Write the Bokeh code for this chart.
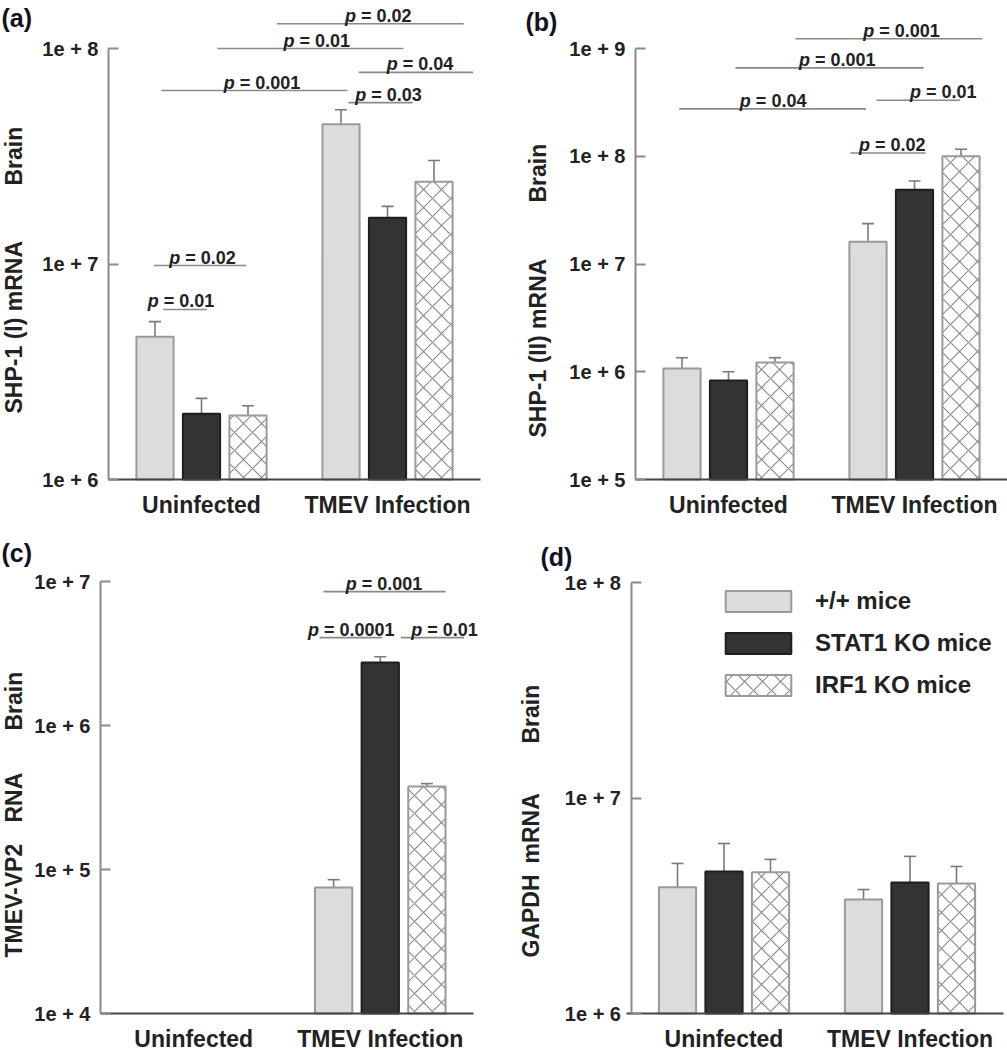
import math
from bokeh.plotting import figure
from bokeh.models import (Range1d, FixedTicker, CustomJSTickFormatter, ColumnDataSource,
                          Whisker, TeeHead, Label, Legend, LegendItem)
from bokeh.layouts import gridplot
from bokeh.embed import file_html
from bokeh.resources import INLINE
from bokeh.core.properties import value

NaN = float("nan")

# ---------------- data ----------------
groups = ["Uninfected", "TMEV Infection"]
strains = ["+/+ mice", "STAT1 KO mice", "IRF1 KO mice"]

# (a) SHP-1 (I) mRNA
a_wt = [4.6e6, 4.45e7];   a_wt_err = [0.8e6, 7.5e6]
a_stat1 = [2.02e6, 1.64e7]; a_stat1_err = [0.36e6, 2.1e6]
a_irf1 = [1.98e6, 2.41e7];  a_irf1_err = [0.22e6, 6.1e6]
# (b) SHP-1 (II) mRNA
b_wt = [1.07e6, 1.61e7];  b_wt_err = [0.28e6, 7.6e6]
b_stat1 = [8.3e5, 4.9e7]; b_stat1_err = [1.7e5, 1.0e7]
b_irf1 = [1.22e6, 1.0e8]; b_irf1_err = [0.13e6, 1.6e7]
# (c) TMEV-VP2 RNA (no signal in uninfected mice)
c_wt = [NaN, 7.5e4];     c_wt_err = [NaN, 1.0e4]
c_stat1 = [NaN, 2.74e6]; c_stat1_err = [NaN, 2.6e5]
c_irf1 = [NaN, 3.77e5];  c_irf1_err = [NaN, 1.8e4]
# (d) GAPDH mRNA
d_wt = [3.85e6, 3.38e6];  d_wt_err = [1.12e6, 0.38e6]
d_stat1 = [4.56e6, 4.05e6]; d_stat1_err = [1.59e6, 1.31e6]
d_irf1 = [4.52e6, 4.01e6];  d_irf1_err = [0.67e6, 0.8e6]

# significance brackets: label, x from, x to, log10(y), label centre x
a_brackets = [("p = 0.02", 1.81, 3.82, 8.115, 2.90),
              ("p = 0.01", 1.17, 3.17, 8.0, 2.24),
              ("p = 0.04", 2.69, 3.92, 7.889, 3.35),
              ("p = 0.001", 0.57, 2.57, 7.805, 1.65),
              ("p = 0.03", 2.58, 3.27, 7.749, 3.01),
              ("p = 0.02", 0.49, 1.48, 6.993, 1.01),
              ("p = 0.01", 0.59, 1.06, 6.789, 0.78)]
b_brackets = [("p = 0.001", 1.72, 3.73, 9.09, 2.86),
              ("p = 0.001", 1.075, 3.10, 8.82, 2.17),
              ("p = 0.04", 0.47, 2.48, 8.44, 1.48),
              ("p = 0.01", 2.59, 3.49, 8.52, 3.31),
              ("p = 0.02", 2.31, 3.12, 8.03, 2.76)]
c_brackets = [("p = 0.001", 2.39, 3.70, 6.93, 3.04),
              ("p = 0.0001", 2.35, 3.02, 6.61, 2.69),
              ("p = 0.01", 3.22, 3.90, 6.61, 3.69)]
d_brackets = []

# ---------------- style ----------------
FONT = "Liberation Sans"
TXT = "#222222"
H = 525
group_x = [1.0, 3.0]
offsets = [-0.5, 0.0, 0.5]
BAR_W = 0.4
styles = [dict(fill_color="#dcdcdc", line_color="#9a9a9a"),
          dict(fill_color="#333333", line_color="#1e1e1e"),
          dict(fill_color="#ffffff", line_color="#9a9a9a", hatch_pattern="diagonal_cross",
               hatch_color="#8c8c8c", hatch_scale=18, hatch_weight=1.2)]

CW = {"p": 0.611, " ": 0.278, "=": 0.584, ".": 0.278}


def tw(s, size):
    return sum(CW.get(ch, 0.556) for ch in s) * size


def make_panel(letter, width, x0px, unit, x_bounds, base_log, base_py, decade, top_log,
               series, brackets, ylabels, letter_pos, legend_loc=None):
    # frame covers the whole figure; axes are drawn at fixed locations inside it
    xr = (-x0px / unit, (width - x0px) / unit)
    lo_log = base_log - (H - base_py) / decade
    hi_log = base_log + base_py / decade
    ylo = 10.0 ** base_log
    p = figure(width=width, height=H, output_backend="svg", toolbar_location=None,
               x_range=Range1d(*xr), y_range=Range1d(10 ** lo_log, 10 ** hi_log),
               y_axis_type="log", min_border=0, min_border_left=0, min_border_right=0,
               min_border_top=0, min_border_bottom=0)
    p.outline_line_color = None
    p.grid.visible = False

    renderers = []
    for (vals, errs), off, st in zip(series, offsets, styles):
        xs, tops, ups = [], [], []
        for gx, v, e in zip(group_x, vals, errs):
            if v == v:
                xs.append(gx + off); tops.append(v); ups.append(v + e)
        src = ColumnDataSource(dict(x=xs, top=tops, upper=ups))
        r = p.vbar(x="x", top="top", bottom=ylo, width=BAR_W, source=src, line_width=2, **st)
        renderers.append(r)
        w = Whisker(source=src, base="x", lower="top", upper="upper", dimension="height",
                    line_color="#7a7a7a", line_width=1.6, lower_head=None,
                    upper_head=TeeHead(size=12, line_color="#7a7a7a", line_width=1.6))
        p.add_layout(w)

    if brackets:
        fs = 18
        seg = dict(x0=[], x1=[], y=[])
        pt = dict(x=[], y=[], xo=[], text=[])
        rt = dict(x=[], y=[], xo=[], text=[])
        for lab, x0, x1, ylog, xc in brackets:
            yv = 10 ** ylog
            seg["x0"].append(x0); seg["x1"].append(x1); seg["y"].append(yv)
            rest = lab[2:]
            total = tw(lab, fs)
            pr = -total / 2 + tw("p", fs)
            pt["x"].append(xc); pt["y"].append(yv); pt["xo"].append(pr); pt["text"].append("p")
            rt["x"].append(xc); rt["y"].append(yv); rt["xo"].append(pr + tw(" ", fs)); rt["text"].append(rest)
        p.segment(x0="x0", x1="x1", y0="y", y1="y", source=ColumnDataSource(seg),
                  line_color="#8a8a8a", line_width=1.6)
        p.text(x="x", y="y", text="text", x_offset="xo", y_offset=-8, source=ColumnDataSource(pt),
               text_font=value(FONT), text_font_size=value(f"{fs}px"), text_font_style="bold italic",
               text_color=TXT, text_align="right", text_baseline="alphabetic")
        p.text(x="x", y="y", text="text", x_offset="xo", y_offset=-8, source=ColumnDataSource(rt),
               text_font=value(FONT), text_font_size=value(f"{fs}px"), text_font_style="bold",
               text_color=TXT, text_align="left", text_baseline="alphabetic")

    # axes
    xa = p.xaxis[0]
    xa.fixed_location = ylo
    xa.bounds = x_bounds
    xa.ticker = FixedTicker(ticks=group_x)
    xa.major_label_overrides = {1: groups[0], 3: groups[1]}
    xa.major_tick_line_color = None
    xa.minor_tick_line_color = None
    xa.axis_line_color = "#444444"
    xa.axis_line_width = 2
    xa.major_label_standoff = 6
    xa.major_label_text_font = FONT
    xa.major_label_text_font_size = "23px"
    xa.major_label_text_font_style = "bold"
    xa.major_label_text_color = TXT

    ya = p.yaxis[0]
    ya.fixed_location = 0
    decs = list(range(int(round(base_log)), top_log + 1))
    ya.ticker = FixedTicker(ticks=[10.0 ** k for k in decs])
    ya.formatter = CustomJSTickFormatter(code="return '1e + ' + Math.round(Math.log10(tick));")
    ya.bounds = (ylo, 10.0 ** top_log)
    ya.axis_line_color = "#8a8a8a"
    ya.axis_line_width = 2
    ya.major_tick_line_color = "#8a8a8a"
    ya.major_tick_line_width = 2
    ya.major_tick_in = 10
    ya.major_tick_out = 0
    ya.minor_tick_line_color = None
    ya.major_label_standoff = 10
    ya.major_label_text_font = FONT
    ya.major_label_text_font_size = "20px"
    ya.major_label_text_font_style = "bold"
    ya.major_label_text_color = TXT

    # y titles (rotated), screen px from the figure's bottom-left
    for txt, xo, yo in ylabels:
        p.add_layout(Label(x=xo, y=yo, x_units="screen", y_units="screen", text=txt,
                           angle=math.pi / 2, text_align="left", text_baseline="middle",
                           text_font=FONT, text_font_size="23px", text_font_style="bold",
                           text_color=TXT))
    # panel letter
    p.add_layout(Label(x=letter_pos[0], y=letter_pos[1], x_units="screen", y_units="screen",
                       text=letter, text_align="left", text_baseline="top", text_font=FONT,
                       text_font_size="25px", text_font_style="bold", text_color="#111122"))

    if legend_loc is not None:
        items = [LegendItem(label=s, renderers=[r]) for s, r in zip(strains, renderers)]
        lg = Legend(items=items, location=legend_loc, orientation="vertical",
                    border_line_color=None, background_fill_alpha=0, glyph_width=82,
                    glyph_height=26, label_height=21, label_standoff=16, spacing=14,
                    padding=0, margin=0, label_text_font=FONT, label_text_font_size="24px",
                    label_text_font_style="bold", label_text_color=TXT)
        p.add_layout(lg)
    return p


pa = make_panel("(a)", 500, 108, 93.0, (0, 4), 6, 479, 215.5, 8,
                [(a_wt, a_wt_err), (a_stat1, a_stat1_err), (a_irf1, a_irf1_err)], a_brackets,
                [("SHP-1 (I) mRNA", 13, 112), ("Brain", 13, 340)], (1, 522))
pb = make_panel("(b)", 507, 135, 93.0, (0, 4), 5, 479, 107.75, 9,
                [(b_wt, b_wt_err), (b_stat1, b_stat1_err), (b_irf1, b_irf1_err)], b_brackets,
                [("SHP-1 (II) mRNA", 37, 88), ("Brain", 37, 323)], (25, 518))
pc = make_panel("(c)", 500, 100, 93.25, (0, 4), 4, 488, 144.0, 7,
                [(c_wt, c_wt_err), (c_stat1, c_stat1_err), (c_irf1, c_irf1_err)], c_brackets,
                [("TMEV-VP2", 13, 93), ("RNA", 13, 228), ("Brain", 13, 320)], (1, 512))
pd_ = make_panel("(d)", 507, 130.5, 93.0, (-0.05, 4.0), 6, 488, 215.5, 8,
                 [(d_wt, d_wt_err), (d_stat1, d_stat1_err), (d_irf1, d_irf1_err)], d_brackets,
                 [("GAPDH", 30, 93), ("mRNA", 30, 187), ("Brain", 30, 307)], (40, 508),
                 legend_loc=(217, 351))

grid = gridplot([[pa, pb], [pc, pd_]], toolbar_location=None)
open("out.html", "w").write(file_html(grid, INLINE))
